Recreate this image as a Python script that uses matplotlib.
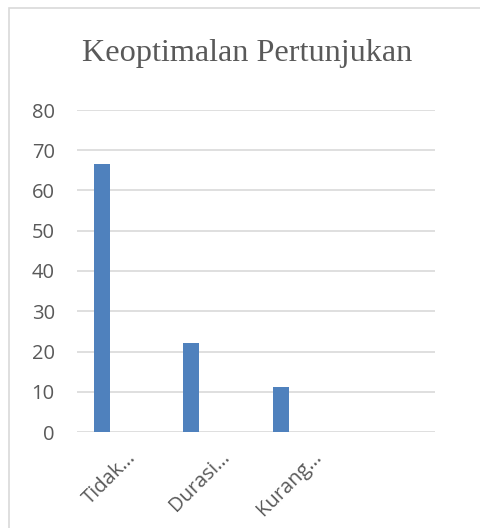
import numpy as np
import matplotlib
matplotlib.use("Agg")
import matplotlib.pyplot as plt
from matplotlib.patches import Rectangle

# chart data
categories = ["Tidak\u2026", "Durasi\u2026", "Kurang\u2026", ""]
values = [66.67, 22.22, 11.11, 0]
y_ticks = [0, 10, 20, 30, 40, 50, 60, 70, 80]
title = "Keoptimalan Pertunjukan"

W, H = 481, 528
fig = plt.figure(figsize=(W / 100, H / 100), dpi=100)
fig.patch.set_facecolor("white")

# chart area border (Excel style), only top/left visible in frame
fig.patches.append(Rectangle((8.5 / W, -0.1), 1.2, 1 - 8.5 / H + 0.1,
                             transform=fig.transFigure, fill=False,
                             edgecolor="#d9d9d9", linewidth=1.2))

ax = fig.add_axes([77 / W, 1 - 432 / H, (435 - 77) / W, (432 - 110) / H])
x = np.arange(len(categories))
# first series of a clustered chart sits left of the category centre
ax.bar(x - 0.223, values, width=0.18, color="#4f81bd", zorder=3)

ax.set_xlim(-0.5, len(categories) - 0.5)
ax.set_ylim(0, 80)
ax.set_yticks(y_ticks)
ax.set_yticklabels([str(t) for t in y_ticks], fontsize=14.5,
                   family="Open Sans", color="#595959")
ax.tick_params(axis="y", length=0, pad=16)
ax.tick_params(axis="x", length=0, pad=11)
ax.set_xticks(x - 0.13)
ax.set_xticklabels(categories, rotation=45, ha="center", va="top",
                   fontsize=14.5, family="Open Sans", color="#595959")

ax.grid(axis="y", color="#d9d9d9", linewidth=1.2, zorder=0)
for s in ["top", "right", "left", "bottom"]:
    ax.spines[s].set_visible(False)

fig.text(247 / W, 1 - 53 / H, title, ha="center", va="center",
         fontsize=23.2, family="Liberation Serif", color="#595959")

fig.savefig("out.png", dpi=100, facecolor="white")
